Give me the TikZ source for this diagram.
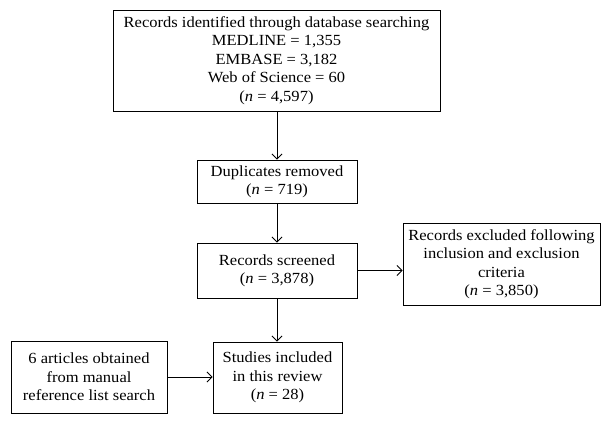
\documentclass[tikz,border=0pt]{standalone}
\usepackage{fontspec}
\setmainfont[FakeStretch=1.07]{Liberation Serif}
\usetikzlibrary{arrows.meta}
\begin{document}
\begin{tikzpicture}[x=1bp,y=-1bp,
  box/.style={draw, line width=0.9bp, align=center, inner sep=0pt,
    font=\fontsize{15.5}{18.5}\selectfont},
  arr/.style={line width=0.9bp, -{Straight Barb[length=5bp,width=10bp]}}]
\useasboundingbox (0,0) rectangle (611,425);
\node[box, minimum width=327bp, minimum height=101bp] (b1) at (276.5,60.5)
  {Records identified through database searching\\MEDLINE = 1,355\\EMBASE = 3,182\\Web of Science = 60\\(\textit{n} = 4,597)};
\node[box, minimum width=160bp, minimum height=43bp] (b2) at (277,181.5)
  {Duplicates removed\\(\textit{n} = 719)};
\node[box, minimum width=160bp, minimum height=55bp] (b3) at (277,270.5)
  {Records screened\\(\textit{n} = 3,878)};
\node[box, minimum width=197bp, minimum height=82bp] (b4) at (501.5,264)
  {Records excluded following\\inclusion and exclusion\\criteria\\(\textit{n} = 3,850)};
\node[box, minimum width=129bp, minimum height=71bp] (b5) at (277.5,377.5)
  {Studies included\\in this review\\(\textit{n} = 28)};
\node[box, minimum width=156bp, minimum height=72bp] (b6) at (89,377)
  {6 articles obtained\\from manual\\reference list search};
\draw[arr] (b1.south -| b2.north) -- (b2.north);
\draw[arr] (b2.south) -- (b3.north);
\draw[arr] (b3.east) -- (b3.east -| b4.west);
\draw[arr] (b3.south) -- (b3.south |- b5.north);
\draw[arr] (b6.east) -- (b6.east -| b5.west);
\end{tikzpicture}
\end{document}
